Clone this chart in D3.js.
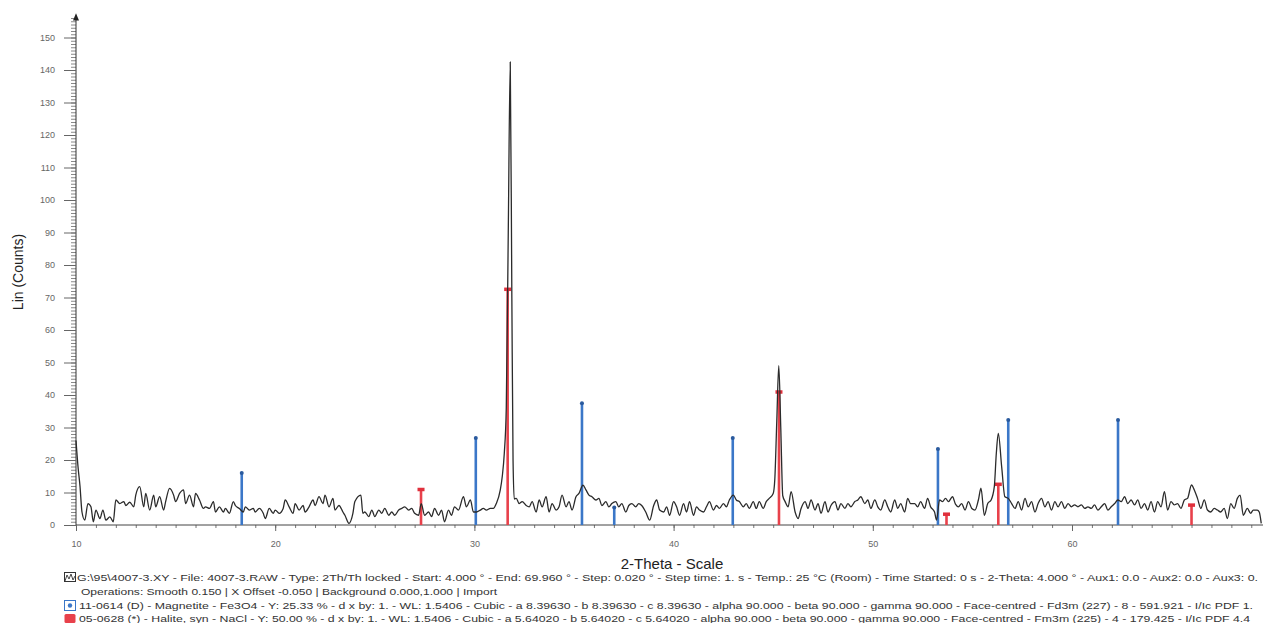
<!DOCTYPE html>
<html>
<head>
<meta charset="utf-8">
<script src="https://cdn.jsdelivr.net/npm/d3@7/dist/d3.min.js"></script>
<style>
  html, body { margin: 0; padding: 0; background: #fff; }
  svg { display: block; font-family: "Liberation Sans", Arial, sans-serif; }
</style>
</head>
<body>
<svg id="chart" width="1263" height="623"></svg>
<script>
const scan = [
  [10.0, 26], [10.1, 18], [10.2, 12], [10.3, 4], [10.44, 1.5], [10.6, 6.6], [10.75, 5.6], [10.87, 1],
  [11.0, 4.6], [11.2, 2], [11.35, 4.6], [11.5, 1.5], [11.7, 2.5], [11.87, 1], [12.0, 7.7], [12.2, 6.6],
  [12.4, 7.2], [12.5, 6], [12.7, 7], [12.9, 5.6], [13.0, 9.2], [13.2, 11.8], [13.4, 5.6], [13.5, 9.7],
  [13.7, 4.6], [13.9, 9.2], [14.0, 5.6], [14.2, 8.7], [14.4, 4.6], [14.5, 7.2], [14.7, 11.3], [14.9, 9.2],
  [15.0, 7.2], [15.2, 9.7], [15.4, 10.8], [15.5, 6.6], [15.7, 9.2], [15.9, 5.6], [16.0, 9.7], [16.2, 7.7],
  [16.4, 5.1], [16.5, 5.6], [16.7, 5.1], [16.9, 7.2], [17.0, 4], [17.2, 5.6], [17.4, 4], [17.5, 5.1],
  [17.7, 3.6], [17.9, 7.2], [18.0, 6], [18.2, 5.1], [18.4, 4], [18.5, 5.6], [18.7, 4.6], [18.9, 5.1],
  [19.0, 4], [19.2, 5.1], [19.4, 3.6], [19.5, 2], [19.7, 5.1], [19.9, 3.6], [20.0, 4.6], [20.2, 3.6],
  [20.4, 5.1], [20.5, 7.7], [20.7, 5.6], [20.9, 3.6], [21.0, 6.6], [21.2, 4.6], [21.4, 6], [21.5, 4],
  [21.7, 5.6], [21.9, 7.7], [22.0, 6], [22.2, 8.7], [22.4, 6.6], [22.5, 9.2], [22.7, 5.6], [22.9, 8.2],
  [23.0, 4.6], [23.2, 6], [23.4, 4], [23.5, 3], [23.7, 0.5], [23.9, 3.6], [24.0, 7.2], [24.3, 9.2],
  [24.4, 3.6], [24.5, 4], [24.7, 2.6], [24.85, 4.6], [25.0, 2.6], [25.2, 4.6], [25.35, 3.6], [25.5, 5.1],
  [25.7, 3], [25.85, 4], [26.0, 3], [26.2, 4.6], [26.35, 5.1], [26.5, 5.6], [26.7, 4.6], [26.85, 5.1],
  [27.0, 3.6], [27.2, 3], [27.33, 6.6], [27.5, 3], [27.7, 4], [27.85, 2.6], [28.0, 5.1], [28.2, 3],
  [28.35, 4.6], [28.5, 1], [28.7, 4.6], [28.85, 3], [29.0, 5.6], [29.2, 4.6], [29.45, 8.7], [29.6, 5.6],
  [29.8, 7.7], [29.95, 4], [30.1, 4], [30.3, 4.6], [30.45, 5.1], [30.6, 4.6], [30.8, 5.1], [30.95, 5.1],
  [31.1, 6.6], [31.3, 10.8], [31.4, 15], [31.5, 22], [31.6, 36], [31.7, 90], [31.8, 142.5], [31.88, 70],
  [31.94, 20], [32.0, 8], [32.1, 8.2], [32.25, 6.6], [32.4, 7.2], [32.6, 6], [32.75, 5.6], [32.9, 7.2],
  [33.1, 4], [33.25, 7.7], [33.4, 5.6], [33.6, 8.7], [33.75, 4], [33.9, 6.6], [34.1, 4.6], [34.25, 5.6],
  [34.4, 9.2], [34.6, 5.6], [34.75, 7.2], [34.9, 4.6], [35.1, 8.7], [35.25, 9.7], [35.45, 12.3], [35.6, 10.8],
  [35.75, 9.2], [35.9, 8.7], [36.1, 7.7], [36.25, 8.2], [36.4, 6], [36.6, 7.2], [36.75, 5.6], [36.9, 6.6],
  [37.1, 7.2], [37.25, 5.6], [37.4, 6.6], [37.6, 4], [37.75, 6], [37.9, 6.6], [38.1, 5.6], [38.25, 6.6],
  [38.4, 6], [38.6, 4], [38.8, 1.5], [39.0, 6], [39.15, 7.7], [39.3, 4.6], [39.5, 4], [39.65, 5.6],
  [39.8, 3], [40.0, 7.2], [40.15, 5.6], [40.3, 3], [40.5, 6.6], [40.65, 4], [40.8, 7.2], [41.0, 3],
  [41.15, 5.6], [41.3, 4.6], [41.5, 4], [41.65, 5.6], [41.8, 7.2], [42.0, 4.6], [42.15, 6], [42.3, 5.1],
  [42.5, 6.6], [42.65, 5.6], [42.8, 7.7], [43.0, 9.2], [43.15, 7.7], [43.3, 7.2], [43.5, 5.6], [43.65, 6.6],
  [43.8, 5.1], [44.0, 7.2], [44.15, 5.1], [44.3, 7.2], [44.5, 5.1], [44.65, 7.2], [44.8, 8.2], [45.0, 9.7],
  [45.08, 14], [45.18, 32], [45.28, 49], [45.38, 30], [45.48, 9], [45.6, 7.2], [45.75, 5.6], [45.9, 10.3],
  [46.1, 4], [46.25, 2], [46.4, 5.1], [46.6, 7.2], [46.75, 5.1], [46.9, 7.7], [47.1, 4.6], [47.25, 6.6],
  [47.4, 3.6], [47.6, 7.2], [47.75, 4], [47.9, 6], [48.1, 7.2], [48.25, 4.6], [48.4, 6.6], [48.6, 5.1],
  [48.75, 6.6], [48.9, 5.6], [49.1, 7.2], [49.25, 7.7], [49.4, 8.7], [49.6, 6.6], [49.75, 7.7], [49.9, 5.1],
  [50.1, 7.7], [50.25, 5.6], [50.4, 4.6], [50.6, 7.7], [50.75, 5.6], [50.9, 4], [51.1, 7.7], [51.25, 5.1],
  [51.4, 6.6], [51.6, 4], [51.75, 8.2], [51.9, 6.6], [52.1, 6.6], [52.25, 5.6], [52.4, 7.2], [52.6, 5.1],
  [52.75, 8.2], [52.9, 5.6], [53.1, 4], [53.2, 1.5], [53.35, 7.7], [53.5, 7.2], [53.65, 8.2], [53.8, 7.2],
  [54.0, 8.7], [54.15, 6.4], [54.3, 5.6], [54.46, 6.6], [54.63, 4.6], [54.8, 7.2], [54.97, 5.1], [55.13, 4.6],
  [55.3, 7.7], [55.43, 11.3], [55.6, 3], [55.77, 6.6], [55.94, 7.7], [56.1, 11.8], [56.2, 22], [56.3, 28.2],
  [56.47, 17.9], [56.63, 8.7], [56.8, 8.2], [56.97, 6.6], [57.14, 5.1], [57.3, 7.2], [57.47, 4.6], [57.64, 8.2],
  [57.8, 5.6], [57.97, 7.2], [58.14, 4], [58.3, 6.6], [58.47, 8.2], [58.64, 5.6], [58.8, 7.2], [58.97, 4.6],
  [59.14, 7.2], [59.3, 5.6], [59.47, 7.2], [59.64, 5.1], [59.8, 6.6], [59.97, 5.6], [60.13, 6.2], [60.3, 5.6],
  [60.47, 6.2], [60.64, 5.1], [60.8, 5.6], [60.97, 5.1], [61.13, 6.2], [61.3, 4.6], [61.47, 5.6], [61.64, 6.6],
  [61.8, 4.6], [61.97, 5.6], [62.14, 6.6], [62.3, 7.7], [62.47, 7.2], [62.64, 8.7], [62.8, 6.6], [62.97, 7.7],
  [63.14, 6.2], [63.3, 7.7], [63.47, 5.1], [63.64, 6.6], [63.8, 4.6], [63.97, 7.2], [64.14, 4], [64.3, 7.2],
  [64.47, 5.6], [64.64, 10.3], [64.8, 4.6], [64.97, 7.2], [65.13, 6.2], [65.3, 6.6], [65.47, 5.1], [65.64, 7.7],
  [65.8, 8.2], [66.0, 12.3], [66.14, 10.8], [66.3, 8.2], [66.47, 5.1], [66.64, 7.7], [66.8, 4.6], [66.97, 4],
  [67.14, 5.1], [67.3, 4.6], [67.47, 4], [67.64, 5.1], [67.8, 2], [67.97, 6.6], [68.14, 5.1], [68.3, 8.2],
  [68.44, 9.2], [68.6, 3], [68.8, 5.1], [68.97, 3.6], [69.1, 4.6], [69.3, 4.6], [69.4, 4], [69.5, 0.5]
]

// reference sticks
const magnetiteTheta = [18.32, 30.07, 35.4, 37.02, 42.97, 53.27, 56.8, 62.31]
const magnetiteCounts = [16, 26.8, 37.5, 5.4, 26.8, 23.4, 32.3, 32.3]
const haliteTheta = [27.32, 31.67, 45.29, 53.7, 56.3, 66.0]
const haliteCounts = [11, 72.6, 41, 3.4, 12.6, 6.2]

const xTicks = [10, 20, 30, 40, 50, 60]
const yTicks = [0, 10, 20, 30, 40, 50, 60, 70, 80, 90, 100, 110, 120, 130, 140, 150]

const legendLines = [
  'G:\\95\\4007-3.XY - File: 4007-3.RAW - Type: 2Th/Th locked - Start: 4.000 ° - End: 69.960 ° - Step: 0.020 ° - Step time: 1. s - Temp.: 25 °C (Room) - Time Started: 0 s - 2-Theta: 4.000 ° - Aux1: 0.0 - Aux2: 0.0 - Aux3: 0.',
  'Operations: Smooth 0.150 | X Offset -0.050 | Background 0.000,1.000 | Import',
  '11-0614 (D) - Magnetite - Fe3O4 - Y: 25.33 % - d x by: 1. - WL: 1.5406 - Cubic - a 8.39630 - b 8.39630 - c 8.39630 - alpha 90.000 - beta 90.000 - gamma 90.000 - Face-centred - Fd3m (227) - 8 - 591.921 - I/Ic PDF 1.',
  '05-0628 (*) - Halite, syn - NaCl - Y: 50.00 % - d x by: 1. - WL: 1.5406 - Cubic - a 5.64020 - b 5.64020 - c 5.64020 - alpha 90.000 - beta 90.000 - gamma 90.000 - Face-centred - Fm3m (225) - 4 - 179.425 - I/Ic PDF 4.4'
]

const svg = d3.select('#chart')

const left = 76
const bottom = 525
const x = d3.scaleLinear().domain([10, 69.96]).range([left, left + 59.96 * 19.92])
const y = d3.scaleLinear().domain([0, 150]).range([bottom, bottom - 150 * 3.25])

const blue = '#3b77c8'
const red = '#e8414b'

// x axis: minor ticks every degree
svg.append('g')
  .attr('transform', `translate(0, ${bottom})`)
  .call(d3.axisBottom(x).tickValues(d3.range(10, 70, 1)).tickSize(3).tickFormat(''))
  .call(g => g.select('.domain').remove())
  .attr('color', '#777')

svg.append('g')
  .attr('transform', `translate(0, ${bottom})`)
  .call(d3.axisBottom(x).tickValues(xTicks).tickSize(6).tickPadding(10).tickFormat(d3.format('d')))
  .call(g => g.select('.domain').attr('d', `M${left},0H1263`).attr('stroke', '#444'))
  .attr('color', '#666')
  .attr('font-size', 9)
  .attr('font-family', '"Liberation Sans", Arial, sans-serif')

// y axis
svg.append('g')
  .attr('transform', `translate(${left}, 0)`)
  .call(d3.axisLeft(y).tickValues(d3.range(0, 157, 1)).tickSize(5).tickFormat(''))
  .call(g => g.select('.domain').remove())
  .attr('color', '#888')

svg.append('g')
  .attr('transform', `translate(${left}, 0)`)
  .call(d3.axisLeft(y).tickValues(yTicks).tickSize(12).tickPadding(9).tickFormat(d3.format('d')))
  .call(g => g.select('.domain').attr('d', `M0,${bottom}V${y(156)}`).attr('stroke', '#333'))
  .attr('color', '#666')
  .attr('font-size', 9)
  .attr('font-family', '"Liberation Sans", Arial, sans-serif')

svg.append('path')
  .attr('d', `M${left - 3},${y(155.2)}L${left},${y(157.5)}L${left + 3},${y(155.2)}Z`)
  .attr('fill', '#222')

// reference sticks
const sticks = svg.append('g')
sticks.selectAll('line.mag')
  .data(magnetiteTheta)
  .join('line')
  .attr('class', 'mag')
  .attr('x1', d => x(d)).attr('x2', d => x(d))
  .attr('y1', y(0)).attr('y2', (d, i) => y(magnetiteCounts[i]))
  .attr('stroke', blue).attr('stroke-width', 2.6)
sticks.selectAll('circle.mag')
  .data(magnetiteTheta)
  .join('circle')
  .attr('class', 'mag')
  .attr('cx', d => x(d)).attr('cy', (d, i) => y(magnetiteCounts[i]))
  .attr('r', 2).attr('fill', '#2a5a9e')

sticks.selectAll('line.hal')
  .data(haliteTheta)
  .join('line')
  .attr('class', 'hal')
  .attr('x1', d => x(d)).attr('x2', d => x(d))
  .attr('y1', y(0)).attr('y2', (d, i) => y(haliteCounts[i]))
  .attr('stroke', red).attr('stroke-width', 2.6)
sticks.selectAll('rect.hal')
  .data(haliteTheta)
  .join('rect')
  .attr('class', 'hal')
  .attr('x', d => x(d) - 3.5).attr('y', (d, i) => y(haliteCounts[i]) - 1.5)
  .attr('width', 7).attr('height', 3.5).attr('fill', '#e0303c')

// scan line
const line = d3.line()
  .x(d => x(d[0]))
  .y(d => y(d[1]))
  .curve(d3.curveMonotoneX)

svg.append('path')
  .datum(scan)
  .attr('d', line)
  .attr('fill', 'none')
  .attr('stroke', '#2b2b2b')
  .attr('stroke-width', 1.3)
  .attr('stroke-linejoin', 'round')

// axis titles
svg.append('text')
  .attr('x', 672).attr('y', 569)
  .attr('text-anchor', 'middle')
  .attr('font-size', 15)
  .attr('fill', '#222')
  .text('2-Theta - Scale')

svg.append('text')
  .attr('transform', `translate(23, 272) rotate(-90)`)
  .attr('text-anchor', 'middle')
  .attr('font-size', 14)
  .attr('fill', '#222')
  .text('Lin (Counts)')

// legend block
const legend = svg.append('g').attr('font-size', 9.5).attr('fill', '#333')
const legendX = [77, 81, 79, 79]
const legendY = [581, 595, 609, 622]
const legendEnd = [1258, 497, 1253, 1250]
legend.selectAll('text')
  .data(legendLines)
  .join('text')
  .attr('x', (d, i) => legendX[i])
  .attr('y', (d, i) => legendY[i])
  .attr('textLength', (d, i) => legendEnd[i] - legendX[i])
  .attr('lengthAdjust', 'spacingAndGlyphs')
  .text(d => d)

// legend icons
const icon = svg.append('g')
icon.append('rect').attr('x', 64.5).attr('y', 572.5).attr('width', 11).attr('height', 9)
  .attr('fill', 'none').attr('stroke', '#333').attr('stroke-width', 1)
icon.append('path').attr('d', 'M65,581 L67,575 L69,579 L71,574 L73,580 L75,576')
  .attr('fill', 'none').attr('stroke', '#333').attr('stroke-width', 0.9)
icon.append('rect').attr('x', 64.5).attr('y', 600.5).attr('width', 11).attr('height', 10)
  .attr('fill', '#fff').attr('stroke', '#3b77c8').attr('stroke-width', 1)
icon.append('circle').attr('cx', 70).attr('cy', 605.5).attr('r', 2.2).attr('fill', blue)
icon.append('rect').attr('x', 64.5).attr('y', 614).attr('width', 11).attr('height', 9).attr('rx', 1.5)
  .attr('fill', red)
</script>
</body>
</html>
